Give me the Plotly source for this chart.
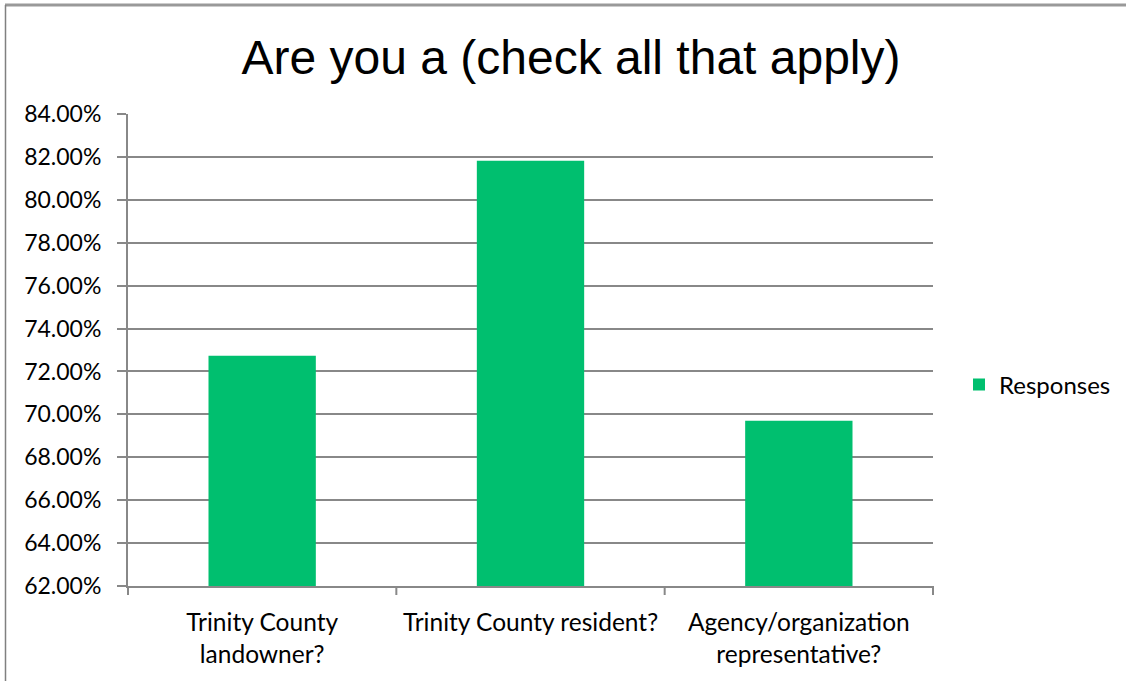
import plotly.graph_objects as go

categories = ["Trinity County<br>landowner?", "Trinity County resident?", "Agency/organization<br>representative?"]
responses = [0.7273, 0.8182, 0.6970]
series_name = "Responses"
title_text = "Are you a (check all that apply)"

W, H = 1126, 681
L, R, T, B = 128, 933, 114, 586

def px(x):
    return (x - L) / (R - L)

def py(y):
    return (B - y) / (B - T)

fig = go.Figure()
fig.add_trace(go.Bar(
    x=categories, y=responses, name=series_name,
    marker=dict(color="#00BF6F", line=dict(width=0)),
    width=0.40, showlegend=True,
))

font_main = "Lato, 'Open Sans', sans-serif"

fig.update_layout(
    width=W, height=H,
    margin=dict(l=L, r=W - R, t=T, b=H - B, pad=0, autoexpand=False),
    paper_bgcolor="white", plot_bgcolor="white",
    title=dict(text=title_text, x=571 / W, xanchor="center",
               y=1 - 57 / H, yanchor="middle",
               font=dict(family="'Liberation Sans', Arial, sans-serif", size=48, color="black")),
    font=dict(family=font_main, size=20, color="black"),
    showlegend=True,
    legend=dict(x=px(959), y=py(385), xanchor="left", yanchor="middle",
                font=dict(family=font_main, size=24, color="black"),
                itemwidth=30, bgcolor="rgba(0,0,0,0)"),
    xaxis=dict(
        showgrid=False, showline=True, linecolor="#888888", linewidth=2,
        ticks="", tickfont=dict(family=font_main, size=24.5, color="black"),
        ticklabelstandoff=14,
    ),
    yaxis=dict(
        range=[0.62, 0.84], tickformat=".2%", dtick=0.02, tick0=0.62,
        showgrid=True, gridcolor="#888888", gridwidth=2,
        showline=True, linecolor="#888888", linewidth=2,
        ticks="outside", ticklen=9, tickcolor="#888888", tickwidth=2,
        tickfont=dict(family=font_main, size=23, color="black"),
        ticklabelstandoff=11,
        zeroline=False,
    ),
)

# category boundary tick marks on the x axis
shapes = []
for i in range(4):
    xp = i / 3
    shapes.append(dict(type="line", xref="paper", yref="paper",
                       x0=xp, x1=xp, y0=0, y1=py(B + 9),
                       line=dict(color="#888888", width=2)))
# chart outer border (top and left)
shapes.append(dict(type="line", xref="paper", yref="paper",
                   x0=px(5), x1=px(W + 5), y0=py(5), y1=py(5),
                   line=dict(color="#999999", width=3)))
shapes.append(dict(type="line", xref="paper", yref="paper",
                   x0=px(5.5), x1=px(5.5), y0=py(5), y1=py(H + 5),
                   line=dict(color="#808080", width=1.5)))
fig.update_layout(shapes=shapes)

fig.write_html("out.html", config={"displayModeBar": False},
               post_script="document.body.style.margin='0px';")
